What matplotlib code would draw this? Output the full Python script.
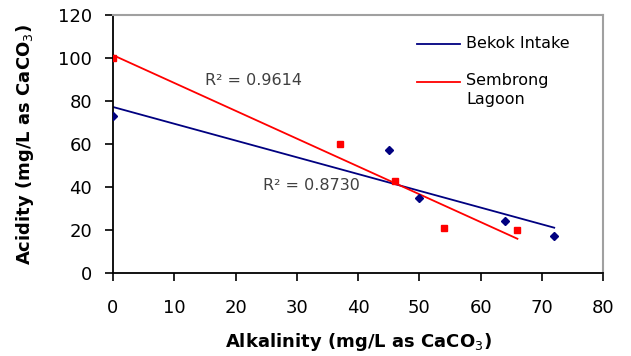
import numpy as np
import matplotlib.pyplot as plt

plt.rcParams['font.family'] = ['DejaVu Sans']

# Bekok Intake
bekok_x = [0, 45, 50, 64, 72]
bekok_y = [73, 57, 35, 24, 17]
# Sembrong Lagoon
semb_x = [0, 37, 46, 54, 66]
semb_y = [100, 60, 43, 21, 20]

r2_labels = ['R² = 0.8730', 'R² = 0.9614']

blue = '#000080'
red = '#ff0000'

fig = plt.figure(figsize=(6.31, 3.56), dpi=100)
ax = fig.add_axes([0.179, 0.233, 0.777, 0.725])

ax.plot(bekok_x, bekok_y, 'D', color=blue, ms=4, ls='none', zorder=3)
ax.plot(semb_x, semb_y, 's', color=red, ms=5, ls='none', zorder=3)

# linear trend lines over the data range
for xs, ys, c in [(bekok_x, bekok_y, blue), (semb_x, semb_y, red)]:
    m, b = np.polyfit(xs, ys, 1)
    xx = np.array([min(xs), max(xs)])
    ax.plot(xx, m * xx + b, color=c, lw=1.3)

ax.text(15, 89.3, r2_labels[1], ha='left', va='center', fontsize=11.5, color='#404040')
ax.text(24.5, 40.5, r2_labels[0], ha='left', va='center', fontsize=11.5, color='#404040')

# legend (lines only, red label wraps onto two lines)
ax.plot([0.62, 0.708], [0.888, 0.888], color=blue, lw=1.3, transform=ax.transAxes)
ax.text(0.72, 0.888, 'Bekok Intake', transform=ax.transAxes, fontsize=11.5, va='center')
ax.plot([0.62, 0.708], [0.74, 0.74], color=red, lw=1.3, transform=ax.transAxes)
ax.text(0.72, 0.775, 'Sembrong\nLagoon', transform=ax.transAxes, fontsize=11.5, va='top',
        linespacing=1.35)

ax.set_xlim(0, 80)
ax.set_ylim(0, 120)
ax.set_xticks(range(0, 81, 10))
ax.set_yticks(range(0, 121, 20))
ax.tick_params(direction='out', length=6, width=1.2, labelsize=13)
ax.tick_params(axis='y', pad=9)
ax.tick_params(axis='x', pad=13)
for s in ['left', 'bottom']:
    ax.spines[s].set_color('black')
    ax.spines[s].set_linewidth(1.3)
for s in ['top', 'right']:
    ax.spines[s].set_color('#a0a0a0')
    ax.spines[s].set_linewidth(1.5)

ax.set_xlabel('Alkalinity (mg/L as CaCO$_3$)', fontsize=13, fontweight='bold', labelpad=10)
ax.set_ylabel('Acidity (mg/L as CaCO$_3$)', fontsize=13, fontweight='bold', labelpad=16)

fig.savefig('out.png', dpi=100)
